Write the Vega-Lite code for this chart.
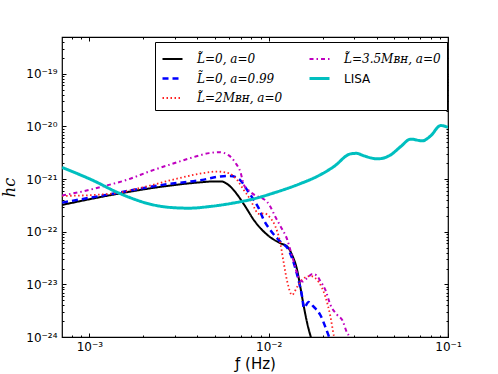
{
  "$schema": "https://vega.github.io/schema/vega-lite/v6.json",
  "width": 386,
  "height": 300,
  "autosize": "none",
  "padding": {"left": 62, "top": 37, "right": 50, "bottom": 37},
  "background": "white",
  "config": {
    "view": {"stroke": "black", "strokeWidth": 1.2},
    "axis": {"grid": false, "domain": false, "labelFont": "DejaVu Sans", "labelFontSize": 12, "labelColor": "black", "tickColor": "black", "titleColor": "black", "titleFontWeight": "normal"}
  },
  "data": {
    "values": [
      {"s": "L\u0303=0, a=0", "f": 7.04e-4, "h": 3.23e-22},
      {"s": "L\u0303=0, a=0", "f": 1.40e-3, "h": 5.16e-22},
      {"s": "L\u0303=0, a=0", "f": 2.55e-3, "h": 7.20e-22},
      {"s": "L\u0303=0, a=0", "f": 4.26e-3, "h": 8.73e-22},
      {"s": "L\u0303=0, a=0", "f": 4.85e-3, "h": 9.00e-22},
      {"s": "L\u0303=0, a=0", "f": 5.51e-3, "h": 8.97e-22},
      {"s": "L\u0303=0, a=0", "f": 5.80e-3, "h": 8.28e-22},
      {"s": "L\u0303=0, a=0", "f": 6.11e-3, "h": 7.20e-22},
      {"s": "L\u0303=0, a=0", "f": 6.80e-3, "h": 4.65e-22},
      {"s": "L\u0303=0, a=0", "f": 7.41e-3, "h": 3.00e-22},
      {"s": "L\u0303=0, a=0", "f": 8.25e-3, "h": 1.68e-22},
      {"s": "L\u0303=0, a=0", "f": 9.19e-3, "h": 1.08e-22},
      {"s": "L\u0303=0, a=0", "f": 1.02e-2, "h": 7.86e-23},
      {"s": "L\u0303=0, a=0", "f": 1.16e-2, "h": 6.05e-23},
      {"s": "L\u0303=0, a=0", "f": 1.27e-2, "h": 5.21e-23},
      {"s": "L\u0303=0, a=0", "f": 1.35e-2, "h": 3.62e-23},
      {"s": "L\u0303=0, a=0", "f": 1.44e-2, "h": 1.88e-23},
      {"s": "L\u0303=0, a=0", "f": 1.50e-2, "h": 9.04e-24},
      {"s": "L\u0303=0, a=0", "f": 1.57e-2, "h": 3.77e-24},
      {"s": "L\u0303=0, a=0", "f": 1.64e-2, "h": 1.82e-24},
      {"s": "L\u0303=0, a=0", "f": 1.71e-2, "h": 1.05e-24},
      {"s": "L\u0303=0, a=0", "f": 1.75e-2, "h": 8.0e-25},

      {"s": "L\u0303=0, a=0.99", "f": 7.04e-4, "h": 3.57e-22},
      {"s": "L\u0303=0, a=0.99", "f": 1.40e-3, "h": 5.40e-22},
      {"s": "L\u0303=0, a=0.99", "f": 2.55e-3, "h": 7.76e-22},
      {"s": "L\u0303=0, a=0.99", "f": 4.26e-3, "h": 9.66e-22},
      {"s": "L\u0303=0, a=0.99", "f": 5.37e-3, "h": 1.12e-21},
      {"s": "L\u0303=0, a=0.99", "f": 6.11e-3, "h": 1.15e-21},
      {"s": "L\u0303=0, a=0.99", "f": 6.95e-3, "h": 9.45e-22},
      {"s": "L\u0303=0, a=0.99", "f": 7.57e-3, "h": 6.23e-22},
      {"s": "L\u0303=0, a=0.99", "f": 8.25e-3, "h": 4.02e-22},
      {"s": "L\u0303=0, a=0.99", "f": 8.79e-3, "h": 2.80e-22},
      {"s": "L\u0303=0, a=0.99", "f": 9.38e-3, "h": 1.68e-22},
      {"s": "L\u0303=0, a=0.99", "f": 1.02e-2, "h": 1.08e-22},
      {"s": "L\u0303=0, a=0.99", "f": 1.16e-2, "h": 6.48e-23},
      {"s": "L\u0303=0, a=0.99", "f": 1.29e-2, "h": 4.51e-23},
      {"s": "L\u0303=0, a=0.99", "f": 1.38e-2, "h": 2.52e-23},
      {"s": "L\u0303=0, a=0.99", "f": 1.47e-2, "h": 1.16e-23},
      {"s": "L\u0303=0, a=0.99", "f": 1.54e-2, "h": 5.51e-24},
      {"s": "L\u0303=0, a=0.99", "f": 1.57e-2, "h": 3.56e-24},
      {"s": "L\u0303=0, a=0.99", "f": 1.67e-2, "h": 4.63e-24},
      {"s": "L\u0303=0, a=0.99", "f": 1.78e-2, "h": 3.77e-24},
      {"s": "L\u0303=0, a=0.99", "f": 1.94e-2, "h": 2.62e-24},
      {"s": "L\u0303=0, a=0.99", "f": 2.07e-2, "h": 1.55e-24},
      {"s": "L\u0303=0, a=0.99", "f": 2.16e-2, "h": 1.05e-24},
      {"s": "L\u0303=0, a=0.99", "f": 2.22e-2, "h": 8.0e-25},

      {"s": "L\u0303=2M\u0299\u029c, a=0", "f": 7.04e-4, "h": 4.79e-22},
      {"s": "L\u0303=2M\u0299\u029c, a=0", "f": 1.08e-3, "h": 5.01e-22},
      {"s": "L\u0303=2M\u0299\u029c, a=0", "f": 1.40e-3, "h": 5.40e-22},
      {"s": "L\u0303=2M\u0299\u029c, a=0", "f": 2.06e-3, "h": 7.20e-22},
      {"s": "L\u0303=2M\u0299\u029c, a=0", "f": 3.16e-3, "h": 1.04e-21},
      {"s": "L\u0303=2M\u0299\u029c, a=0", "f": 4.26e-3, "h": 1.29e-21},
      {"s": "L\u0303=2M\u0299\u029c, a=0", "f": 5.15e-3, "h": 1.39e-21},
      {"s": "L\u0303=2M\u0299\u029c, a=0", "f": 6.01e-3, "h": 1.29e-21},
      {"s": "L\u0303=2M\u0299\u029c, a=0", "f": 6.66e-3, "h": 9.66e-22},
      {"s": "L\u0303=2M\u0299\u029c, a=0", "f": 7.25e-3, "h": 6.23e-22},
      {"s": "L\u0303=2M\u0299\u029c, a=0", "f": 7.91e-3, "h": 4.02e-22},
      {"s": "L\u0303=2M\u0299\u029c, a=0", "f": 8.43e-3, "h": 2.60e-22},
      {"s": "L\u0303=2M\u0299\u029c, a=0", "f": 8.71e-3, "h": 2.18e-22},
      {"s": "L\u0303=2M\u0299\u029c, a=0", "f": 9.46e-3, "h": 2.23e-22},
      {"s": "L\u0303=2M\u0299\u029c, a=0", "f": 1.02e-2, "h": 1.83e-22},
      {"s": "L\u0303=2M\u0299\u029c, a=0", "f": 1.09e-2, "h": 1.25e-22},
      {"s": "L\u0303=2M\u0299\u029c, a=0", "f": 1.16e-2, "h": 6.13e-23},
      {"s": "L\u0303=2M\u0299\u029c, a=0", "f": 1.21e-2, "h": 2.67e-23},
      {"s": "L\u0303=2M\u0299\u029c, a=0", "f": 1.27e-2, "h": 1.11e-23},
      {"s": "L\u0303=2M\u0299\u029c, a=0", "f": 1.35e-2, "h": 6.29e-24},
      {"s": "L\u0303=2M\u0299\u029c, a=0", "f": 1.44e-2, "h": 8.93e-24},
      {"s": "L\u0303=2M\u0299\u029c, a=0", "f": 1.57e-2, "h": 1.31e-23},
      {"s": "L\u0303=2M\u0299\u029c, a=0", "f": 1.71e-2, "h": 1.44e-23},
      {"s": "L\u0303=2M\u0299\u029c, a=0", "f": 1.90e-2, "h": 1.11e-23},
      {"s": "L\u0303=2M\u0299\u029c, a=0", "f": 2.07e-2, "h": 5.84e-24},
      {"s": "L\u0303=2M\u0299\u029c, a=0", "f": 2.21e-2, "h": 2.43e-24},
      {"s": "L\u0303=2M\u0299\u029c, a=0", "f": 2.31e-2, "h": 1.05e-24},
      {"s": "L\u0303=2M\u0299\u029c, a=0", "f": 2.36e-2, "h": 8.0e-25},

      {"s": "L\u0303=3.5M\u0299\u029c, a=0", "f": 7.04e-4, "h": 4.90e-22},
      {"s": "L\u0303=3.5M\u0299\u029c, a=0", "f": 9.10e-4, "h": 5.79e-22},
      {"s": "L\u0303=3.5M\u0299\u029c, a=0", "f": 1.18e-3, "h": 7.20e-22},
      {"s": "L\u0303=3.5M\u0299\u029c, a=0", "f": 1.66e-3, "h": 9.96e-22},
      {"s": "L\u0303=3.5M\u0299\u029c, a=0", "f": 2.15e-3, "h": 1.39e-21},
      {"s": "L\u0303=3.5M\u0299\u029c, a=0", "f": 2.90e-3, "h": 1.95e-21},
      {"s": "L\u0303=3.5M\u0299\u029c, a=0", "f": 3.91e-3, "h": 2.68e-21},
      {"s": "L\u0303=3.5M\u0299\u029c, a=0", "f": 4.65e-3, "h": 3.11e-21},
      {"s": "L\u0303=3.5M\u0299\u029c, a=0", "f": 5.28e-3, "h": 3.25e-21},
      {"s": "L\u0303=3.5M\u0299\u029c, a=0", "f": 5.99e-3, "h": 2.82e-21},
      {"s": "L\u0303=3.5M\u0299\u029c, a=0", "f": 6.52e-3, "h": 2.03e-21},
      {"s": "L\u0303=3.5M\u0299\u029c, a=0", "f": 6.95e-3, "h": 1.37e-21},
      {"s": "L\u0303=3.5M\u0299\u029c, a=0", "f": 7.27e-3, "h": 7.76e-22},
      {"s": "L\u0303=3.5M\u0299\u029c, a=0", "f": 7.73e-3, "h": 6.10e-22},
      {"s": "L\u0303=3.5M\u0299\u029c, a=0", "f": 8.43e-3, "h": 4.90e-22},
      {"s": "L\u0303=3.5M\u0299\u029c, a=0", "f": 9.19e-3, "h": 4.33e-22},
      {"s": "L\u0303=3.5M\u0299\u029c, a=0", "f": 9.80e-3, "h": 3.69e-22},
      {"s": "L\u0303=3.5M\u0299\u029c, a=0", "f": 1.02e-2, "h": 3.00e-22},
      {"s": "L\u0303=3.5M\u0299\u029c, a=0", "f": 1.09e-2, "h": 1.91e-22},
      {"s": "L\u0303=3.5M\u0299\u029c, a=0", "f": 1.16e-2, "h": 1.29e-22},
      {"s": "L\u0303=3.5M\u0299\u029c, a=0", "f": 1.27e-2, "h": 6.98e-23},
      {"s": "L\u0303=3.5M\u0299\u029c, a=0", "f": 1.32e-2, "h": 4.51e-23},
      {"s": "L\u0303=3.5M\u0299\u029c, a=0", "f": 1.38e-2, "h": 2.67e-23},
      {"s": "L\u0303=3.5M\u0299\u029c, a=0", "f": 1.47e-2, "h": 1.32e-23},
      {"s": "L\u0303=3.5M\u0299\u029c, a=0", "f": 1.54e-2, "h": 1.13e-23},
      {"s": "L\u0303=3.5M\u0299\u029c, a=0", "f": 1.64e-2, "h": 1.32e-23},
      {"s": "L\u0303=3.5M\u0299\u029c, a=0", "f": 1.75e-2, "h": 1.58e-23},
      {"s": "L\u0303=3.5M\u0299\u029c, a=0", "f": 1.85e-2, "h": 1.48e-23},
      {"s": "L\u0303=3.5M\u0299\u029c, a=0", "f": 1.94e-2, "h": 1.16e-23},
      {"s": "L\u0303=3.5M\u0299\u029c, a=0", "f": 2.07e-2, "h": 7.83e-24},
      {"s": "L\u0303=3.5M\u0299\u029c, a=0", "f": 2.21e-2, "h": 4.06e-24},
      {"s": "L\u0303=3.5M\u0299\u029c, a=0", "f": 2.41e-2, "h": 2.62e-24},
      {"s": "L\u0303=3.5M\u0299\u029c, a=0", "f": 2.57e-2, "h": 2.10e-24},
      {"s": "L\u0303=3.5M\u0299\u029c, a=0", "f": 2.74e-2, "h": 1.19e-24},
      {"s": "L\u0303=3.5M\u0299\u029c, a=0", "f": 2.80e-2, "h": 1.05e-24},
      {"s": "L\u0303=3.5M\u0299\u029c, a=0", "f": 2.86e-2, "h": 8.0e-25},

      {"s": "LISA", "f": 7.04e-4, "h": 1.66e-21},
      {"s": "LISA", "f": 1.08e-3, "h": 8.97e-22},
      {"s": "LISA", "f": 1.40e-3, "h": 5.78e-22},
      {"s": "LISA", "f": 1.66e-3, "h": 4.53e-22},
      {"s": "LISA", "f": 2.15e-3, "h": 3.38e-22},
      {"s": "LISA", "f": 2.90e-3, "h": 2.87e-22},
      {"s": "LISA", "f": 3.59e-3, "h": 2.80e-22},
      {"s": "LISA", "f": 4.65e-3, "h": 3.00e-22},
      {"s": "LISA", "f": 6.27e-3, "h": 3.48e-22},
      {"s": "LISA", "f": 8.24e-3, "h": 4.21e-22},
      {"s": "LISA", "f": 1.09e-2, "h": 5.58e-22},
      {"s": "LISA", "f": 1.50e-2, "h": 8.19e-22},
      {"s": "LISA", "f": 1.86e-2, "h": 1.12e-21},
      {"s": "LISA", "f": 2.31e-2, "h": 1.73e-21},
      {"s": "LISA", "f": 2.86e-2, "h": 3.01e-21},
      {"s": "LISA", "f": 3.09e-2, "h": 3.08e-21},
      {"s": "LISA", "f": 3.40e-2, "h": 2.76e-21},
      {"s": "LISA", "f": 4.04e-2, "h": 2.42e-21},
      {"s": "LISA", "f": 4.79e-2, "h": 2.88e-21},
      {"s": "LISA", "f": 5.45e-2, "h": 4.15e-21},
      {"s": "LISA", "f": 6.19e-2, "h": 5.74e-21},
      {"s": "LISA", "f": 7.20e-2, "h": 5.32e-21},
      {"s": "LISA", "f": 8.00e-2, "h": 6.62e-21},
      {"s": "LISA", "f": 9.10e-2, "h": 1.04e-20},
      {"s": "LISA", "f": 1.00e-1, "h": 9.62e-21}
    ]
  },
  "layer": [
    {
      "mark": {"type": "line", "clip": true, "interpolate": "monotone"},
      "encoding": {
        "x": {
          "field": "f", "type": "quantitative",
          "scale": {"type": "log", "domain": [7.03e-4, 0.1], "nice": false},
          "title": "\u0192 (Hz)",
          "axis": {
            "orient": "bottom",
            "values": [7e-4, 8e-4, 9e-4, 1e-3, 2e-3, 3e-3, 4e-3, 5e-3, 6e-3, 7e-3, 8e-3, 9e-3, 1e-2, 2e-2, 3e-2, 4e-2, 5e-2, 6e-2, 7e-2, 8e-2, 9e-2, 1e-1],
            "labelExpr": "abs(log(datum.value)/LN10 - round(log(datum.value)/LN10)) < 0.001 ? ['10\u207b\u00b3','10\u207b\u00b2','10\u207b\u00b9'][round(log(datum.value)/LN10) + 3] : ''",
            "tickSize": {"condition": {"test": "abs(log(datum.value)/LN10 - round(log(datum.value)/LN10)) < 0.001", "value": -4}, "value": -2},
            "labelPadding": 8,
            "labelFlush": false,
            "labelOverlap": false,
            "titleFont": "DejaVu Sans",
            "titleFontSize": 15,
            "titlePadding": 2
          }
        },
        "y": {
          "field": "h", "type": "quantitative",
          "scale": {"type": "log", "domain": [1e-24, 5e-19], "nice": false},
          "title": "hc",
          "axis": {
            "orient": "left",
            "values": [1e-24, 2e-24, 3e-24, 4e-24, 5e-24, 6e-24, 7e-24, 8e-24, 9e-24, 1e-23, 2e-23, 3e-23, 4e-23, 5e-23, 6e-23, 7e-23, 8e-23, 9e-23, 1e-22, 2e-22, 3e-22, 4e-22, 5e-22, 6e-22, 7e-22, 8e-22, 9e-22, 1e-21, 2e-21, 3e-21, 4e-21, 5e-21, 6e-21, 7e-21, 8e-21, 9e-21, 1e-20, 2e-20, 3e-20, 4e-20, 5e-20, 6e-20, 7e-20, 8e-20, 9e-20, 1e-19, 2e-19, 3e-19, 4e-19, 5e-19],
            "labelExpr": "abs(log(datum.value)/LN10 - round(log(datum.value)/LN10)) < 0.001 ? ['10\u207b\u00b2\u2074','10\u207b\u00b2\u00b3','10\u207b\u00b2\u00b2','10\u207b\u00b2\u00b9','10\u207b\u00b2\u2070','10\u207b\u00b9\u2079'][round(log(datum.value)/LN10) + 24] : ''",
            "tickSize": {"condition": {"test": "abs(log(datum.value)/LN10 - round(log(datum.value)/LN10)) < 0.001", "value": -4}, "value": -2},
            "labelPadding": 9,
            "labelFlush": false,
            "labelOverlap": false,
            "titleFont": "DejaVu Serif",
            "titleFontStyle": "italic",
            "titleFontSize": 16,
            "titlePadding": 8
          }
        },
        "color": {
          "field": "s", "type": "nominal",
          "scale": {
            "domain": ["L\u0303=0, a=0", "L\u0303=0, a=0.99", "L\u0303=2M\u0299\u029c, a=0", "L\u0303=3.5M\u0299\u029c, a=0", "LISA"],
            "range": ["#000000", "#0000ff", "#ff2020", "#bf00bf", "#00bfbf"]
          },
          "legend": {
            "title": null,
            "orient": "none",
            "legendX": 93,
            "legendY": 5,
            "columns": 2,
            "symbolType": "stroke",
            "symbolSize": 400,
            "labelFont": {"expr": "datum.value == 'LISA' ? 'DejaVu Sans' : 'DejaVu Serif'"},
            "labelFontStyle": {"expr": "datum.value == 'LISA' ? 'normal' : 'italic'"},
            "labelFontSize": 12,
            "labelColor": "black",
            "labelOffset": 13,
            "labelLimit": 300,
            "padding": 6,
            "rowPadding": 2,
            "columnPadding": 20,
            "strokeColor": "black",
            "fillColor": "white",
            "cornerRadius": 0
          }
        },
        "strokeDash": {
          "field": "s", "type": "nominal",
          "scale": {
            "domain": ["L\u0303=0, a=0", "L\u0303=0, a=0.99", "L\u0303=2M\u0299\u029c, a=0", "L\u0303=3.5M\u0299\u029c, a=0", "LISA"],
            "range": [[1, 0], [6, 4], [1.5, 2.5], [4, 3, 1.5, 3], [1, 0]]
          },
          "legend": null
        },
        "strokeWidth": {
          "field": "s", "type": "nominal",
          "scale": {
            "type": "ordinal",
            "domain": ["L\u0303=0, a=0", "L\u0303=0, a=0.99", "L\u0303=2M\u0299\u029c, a=0", "L\u0303=3.5M\u0299\u029c, a=0", "LISA"],
            "range": [2, 2.5, 1.8, 2, 3]
          },
          "legend": null
        }
      }
    },
    {
      "mark": {"type": "line", "clip": true, "strokeOpacity": 0},
      "encoding": {
        "x": {
          "field": "f", "type": "quantitative",
          "axis": {
            "orient": "top", "title": null, "labels": false,
            "values": [7e-4, 8e-4, 9e-4, 1e-3, 2e-3, 3e-3, 4e-3, 5e-3, 6e-3, 7e-3, 8e-3, 9e-3, 1e-2, 2e-2, 3e-2, 4e-2, 5e-2, 6e-2, 7e-2, 8e-2, 9e-2, 1e-1],
            "tickSize": {"condition": {"test": "abs(log(datum.value)/LN10 - round(log(datum.value)/LN10)) < 0.001", "value": -4}, "value": -2}
          }
        },
        "y": {
          "field": "h", "type": "quantitative",
          "axis": {
            "orient": "right", "title": null, "labels": false,
            "values": [1e-24, 2e-24, 3e-24, 4e-24, 5e-24, 6e-24, 7e-24, 8e-24, 9e-24, 1e-23, 2e-23, 3e-23, 4e-23, 5e-23, 6e-23, 7e-23, 8e-23, 9e-23, 1e-22, 2e-22, 3e-22, 4e-22, 5e-22, 6e-22, 7e-22, 8e-22, 9e-22, 1e-21, 2e-21, 3e-21, 4e-21, 5e-21, 6e-21, 7e-21, 8e-21, 9e-21, 1e-20, 2e-20, 3e-20, 4e-20, 5e-20, 6e-20, 7e-20, 8e-20, 9e-20, 1e-19, 2e-19, 3e-19, 4e-19, 5e-19],
            "tickSize": {"condition": {"test": "abs(log(datum.value)/LN10 - round(log(datum.value)/LN10)) < 0.001", "value": -4}, "value": -2}
          }
        },
        "detail": {"field": "s", "type": "nominal"}
      }
    }
  ],
  "resolve": {"axis": {"x": "independent", "y": "independent"}}
}
